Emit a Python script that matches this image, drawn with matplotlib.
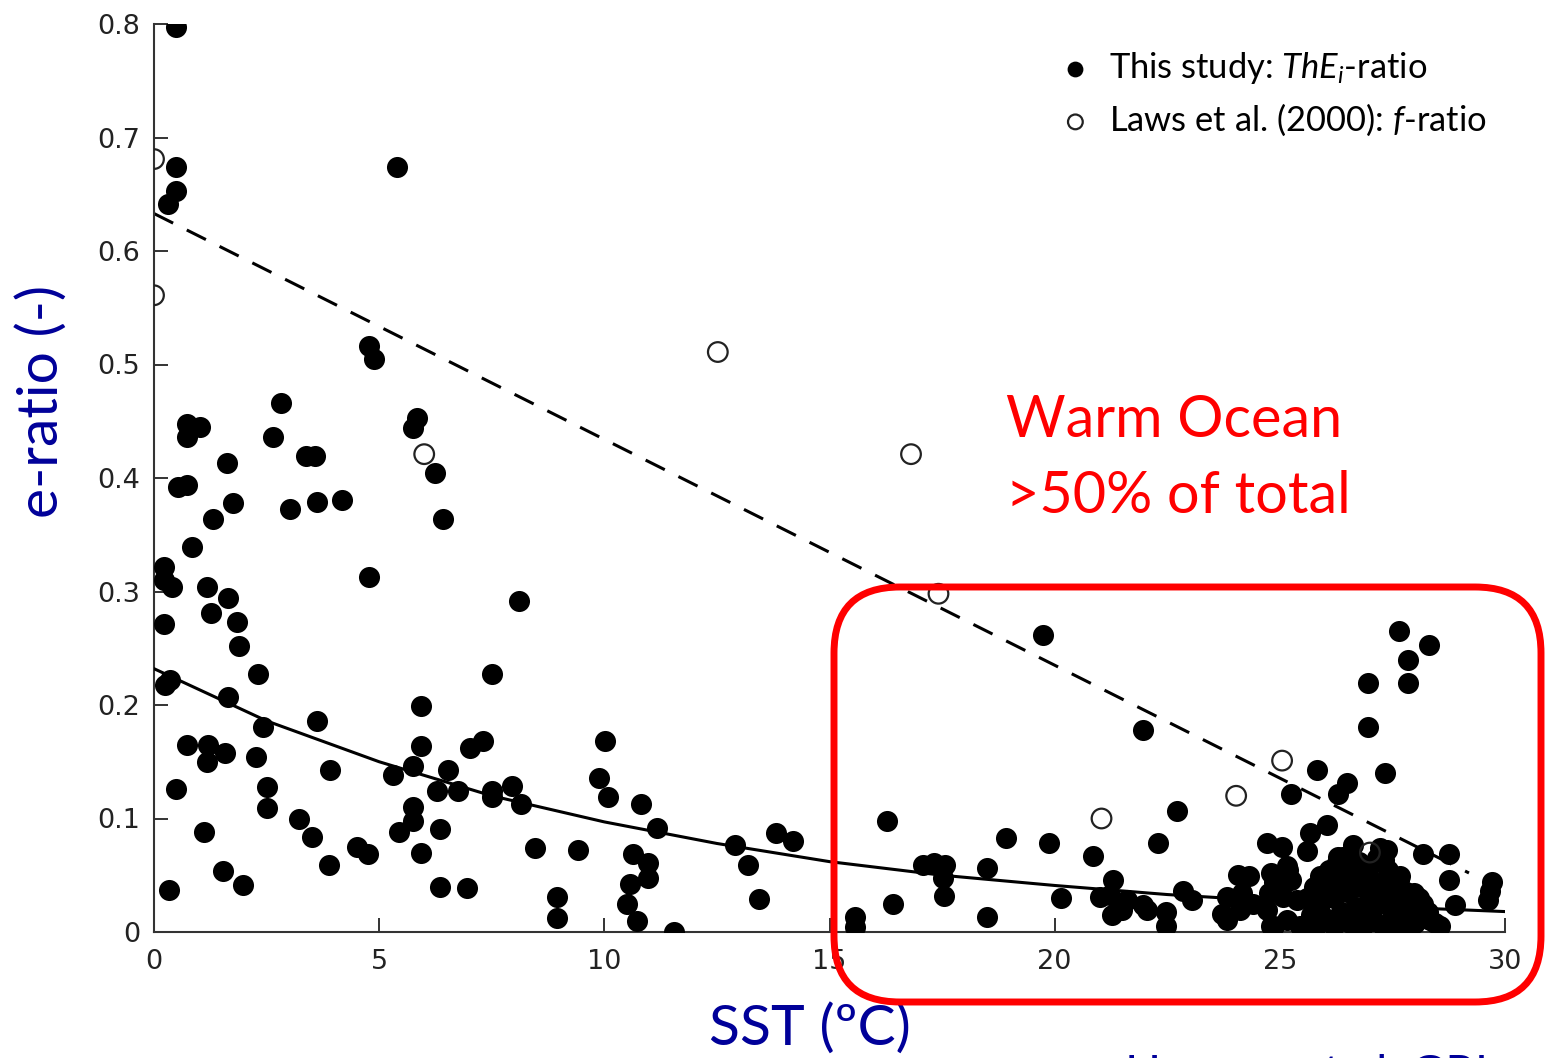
import matplotlib
matplotlib.use("Agg")
import matplotlib.pyplot as plt
from matplotlib.patches import FancyBboxPatch
from matplotlib.transforms import IdentityTransform

# ── data ─────────────────────────────────────────────────
# This study: ThE_i-ratio (filled)
this_x = [0.48, 0.48, 0.48, 0.30, 5.39, 4.78, 4.89, 5.83, 5.76, 6.24, 6.42, 2.82, 2.65,
          0.73, 1.02, 0.73, 1.61, 3.38, 3.58, 0.54, 0.73, 1.76, 3.02, 3.61, 4.17, 1.32,
          0.84, 0.23, 0.23, 0.39, 1.18, 1.64, 1.26, 1.84, 1.88, 0.23, 4.78, 8.10, 2.32,
          7.51, 0.24, 0.36, 1.64, 2.41, 3.63, 5.94, 0.74, 1.21, 1.17, 1.58, 2.27, 3.91,
          5.94, 5.76, 5.30, 6.52, 7.02, 7.31, 0.48, 2.52, 2.52, 6.28, 6.74, 7.50, 7.50,
          7.95, 8.15, 3.22, 3.50, 1.11, 5.76, 5.76, 5.44, 6.34, 4.50, 4.76, 3.89, 5.92,
          1.54, 1.98, 0.34, 6.35, 6.96,
          8.46, 9.41, 8.96, 8.96, 10.02, 9.89, 10.09, 10.81, 11.16, 10.63, 10.98, 10.98,
          10.57, 10.50, 10.72, 11.55, 12.90, 13.18, 13.44, 13.81, 14.20, 15.57, 15.57,
          16.27, 16.40, 17.08, 17.31, 17.57, 17.53, 17.55, 18.49, 18.49, 18.91,
          19.74, 19.88, 20.15, 20.85, 21.30, 21.00, 21.23, 21.27, 21.49, 21.60, 21.97,
          22.05, 21.96, 22.30, 22.71, 22.47, 22.47, 22.86, 23.04, 23.71, 23.82,
          24.07, 24.31, 24.15, 24.71, 25.04, 24.81, 25.16, 25.24, 24.77, 24.81,
          25.24, 25.82, 25.60, 25.67, 26.04, 26.29, 26.49, 26.95, 26.95, 27.65, 28.31,
          27.85, 27.85, 27.34, 26.63, 28.19, 28.75, 28.75, 28.90, 29.71, 29.67, 29.63,
          27.23, 27.31, 26.29, 27.65, 23.82, 24.12, 23.82, 24.41, 24.71, 24.86, 25.15,
          25.45, 25.08, 25.38, 25.75, 25.90, 26.26, 26.56, 24.86, 25.19,
          27.37, 27.67, 27.97, 28.19, 28.34, 28.56, 27.37, 27.52, 27.82, 27.37,
          25.60, 25.70, 25.80, 25.90, 26.00, 26.00, 26.10, 26.20, 26.20, 26.30, 26.35,
          26.40, 26.50, 26.55, 26.60, 26.70, 26.75, 26.80, 26.85, 26.90, 26.95, 27.00,
          27.05, 27.10, 27.15, 27.20, 27.25, 27.30, 27.40, 27.45, 27.50, 27.60, 27.65,
          27.75, 27.80, 27.90, 28.00, 28.10, 28.30, 28.45]
this_y = [0.797, 0.674, 0.653, 0.641, 0.674, 0.516, 0.505, 0.453, 0.444, 0.404, 0.364, 0.466, 0.436,
          0.448, 0.445, 0.436, 0.413, 0.419, 0.419, 0.392, 0.394, 0.378, 0.373, 0.379, 0.381, 0.364,
          0.339, 0.322, 0.310, 0.304, 0.304, 0.294, 0.281, 0.273, 0.252, 0.271, 0.313, 0.292, 0.227,
          0.227, 0.218, 0.222, 0.207, 0.181, 0.186, 0.199, 0.165, 0.165, 0.150, 0.158, 0.154, 0.143,
          0.164, 0.146, 0.138, 0.143, 0.162, 0.168, 0.126, 0.128, 0.109, 0.124, 0.124, 0.124, 0.119,
          0.129, 0.113, 0.100, 0.084, 0.088, 0.110, 0.098, 0.088, 0.091, 0.075, 0.069, 0.059, 0.070,
          0.054, 0.041, 0.037, 0.040, 0.039,
          0.074, 0.072, 0.031, 0.012, 0.168, 0.136, 0.119, 0.113, 0.092, 0.069, 0.061, 0.048,
          0.042, 0.025, 0.010, 0.000, 0.077, 0.059, 0.029, 0.087, 0.080, 0.013, 0.004,
          0.098, 0.025, 0.059, 0.061, 0.059, 0.048, 0.032, 0.056, 0.013, 0.083,
          0.262, 0.078, 0.030, 0.067, 0.046, 0.031, 0.033, 0.015, 0.019, 0.028, 0.024,
          0.019, 0.178, 0.078, 0.107, 0.018, 0.005, 0.036, 0.028, 0.016, 0.011,
          0.050, 0.049, 0.034, 0.078, 0.075, 0.052, 0.058, 0.046, 0.034, 0.005,
          0.122, 0.143, 0.071, 0.087, 0.094, 0.122, 0.131, 0.219, 0.181, 0.265, 0.253,
          0.240, 0.219, 0.140, 0.077, 0.069, 0.069, 0.046, 0.024, 0.044, 0.036, 0.028,
          0.074, 0.063, 0.066, 0.046, 0.031, 0.019, 0.013, 0.025, 0.019, 0.005, 0.011,
          0.005, 0.031, 0.028, 0.040, 0.049, 0.061, 0.058, 0.044, 0.055,
          0.072, 0.049, 0.034, 0.025, 0.011, 0.005, 0.040, 0.022, 0.011, 0.005,
          0.030, 0.015, 0.005, 0.025, 0.040, 0.012, 0.055, 0.030, 0.005, 0.045, 0.018,
          0.066, 0.035, 0.008, 0.050, 0.022, 0.062, 0.040, 0.005, 0.015, 0.055, 0.030,
          0.045, 0.010, 0.065, 0.025, 0.040, 0.005, 0.055, 0.030, 0.012, 0.045, 0.028,
          0.004, 0.035, 0.020, 0.008, 0.030, 0.018, 0.008]

# Laws et al. (2000): f-ratio (open)
laws_x = [0.0, 0.0, 6.0, 12.52, 16.81, 17.42, 21.04, 24.03, 25.05, 27.0]
laws_y = [0.681, 0.561, 0.421, 0.511, 0.421, 0.298, 0.100, 0.120, 0.151, 0.070]

# fitted curves
fit_this_x = [0, 2.5, 5, 7.5, 10, 12.5, 15, 17.5, 20, 22.5, 25, 27.5, 30]
fit_this_y = [0.232, 0.186, 0.150, 0.120, 0.097, 0.078, 0.062, 0.050, 0.041, 0.033, 0.027, 0.022, 0.018]
fit_laws_x = [0, 29.2]
fit_laws_y = [0.633, 0.052]

xticks = [0, 5, 10, 15, 20, 25, 30]
yticks = [0, 0.1, 0.2, 0.3, 0.4, 0.5, 0.6, 0.7, 0.8]
ytick_labels = ["0", "0.1", "0.2", "0.3", "0.4", "0.5", "0.6", "0.7", "0.8"]

W, H = 1549, 1058
BLUE = "#000099"

plt.rcParams["mathtext.fontset"] = "custom"
plt.rcParams["mathtext.rm"] = "Lato"
plt.rcParams["mathtext.it"] = "Lato:italic"

fig = plt.figure(figsize=(W / 100, H / 100), dpi=100)
ax = fig.add_axes([154 / W, 126 / H, 1351 / W, 908 / H])

ax.plot(fit_laws_x, fit_laws_y, color="k", lw=2.2, dashes=(7, 5), zorder=2)
s1 = ax.scatter(this_x, this_y, s=230, c="k", linewidths=0, zorder=3,
                label=r"This study: $ThE_i$-ratio")
s2 = ax.scatter(laws_x, laws_y, s=200, facecolors="none", edgecolors="#222222",
                linewidths=1.6, zorder=4, label=r"Laws et al. (2000): $f$-ratio")
ax.plot(fit_this_x, fit_this_y, color="k", lw=2.2, zorder=5)

ax.set_xlim(0, 30)
ax.set_ylim(0, 0.8)
ax.set_xticks(xticks)
ax.set_yticks(yticks)
ax.set_yticklabels(ytick_labels)
for sp in ["top", "right"]:
    ax.spines[sp].set_visible(False)
for sp in ["left", "bottom"]:
    ax.spines[sp].set_color("#333333")
    ax.spines[sp].set_linewidth(1.5)
    ax.spines[sp].set_clip_on(False)
ax.tick_params(direction="in", length=10, width=1.4, color="#333333",
               labelsize=19.5, labelcolor="#222222")
ax.tick_params(axis="y", pad=10)
ax.tick_params(axis="x", pad=12)

leg = ax.legend(handles=[s1, s2], loc="upper left", bbox_to_anchor=(0.6565, 0.99),
                frameon=False, markerscale=0.75, handlelength=1.0, handletextpad=0.47,
                labelspacing=0.45, borderpad=0, prop={"family": "Lato", "size": 24.8})

# axis labels, annotation and red box (pixel placement from the reference)
fig.text(42 / W, 1 - 401 / H, "e-ratio (-)", rotation=90, ha="center", va="center",
         color=BLUE, fontsize=41, family="Lato")
fig.text(810 / W, 1 - 1045 / H, "SST (ºC)", ha="center", va="baseline",
         color=BLUE, fontsize=41, family="Lato")
fig.text(1125 / W, 1 - 1088 / H, "Henson et al. GRL", ha="left", va="baseline",
         color=BLUE, fontsize=34, family="Lato")
fig.text(1006 / W, 1 - 437 / H, "Warm Ocean", ha="left", va="baseline",
         color="red", fontsize=41.5, family="Lato")
fig.text(1006 / W, 1 - 513 / H, ">50% of total", ha="left", va="baseline",
         color="red", fontsize=41.5, family="Lato")

box = FancyBboxPatch((834, H - 1002), 1541 - 834, 1002 - 587,
                     boxstyle="round,pad=0,rounding_size=66",
                     transform=IdentityTransform(), fill=False,
                     edgecolor="red", linewidth=5, zorder=10)
fig.add_artist(box)

fig.savefig("out.png", dpi=100)
